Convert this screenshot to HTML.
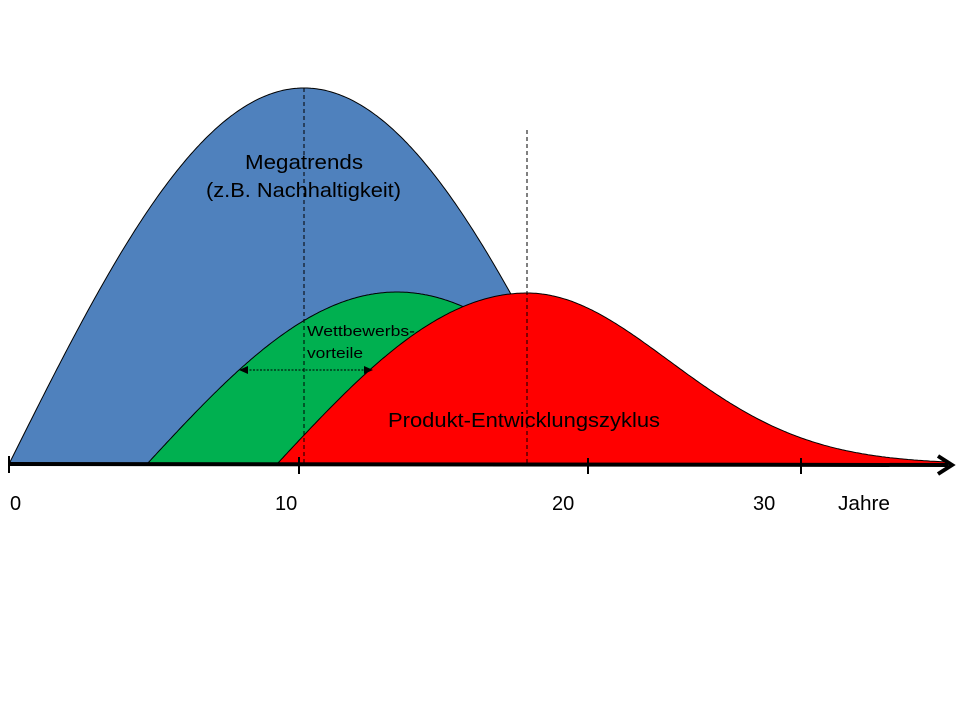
<!DOCTYPE html>
<html><head><meta charset="utf-8"><style>
html,body{margin:0;padding:0;background:#fff;}
svg{display:block;font-family:"Liberation Sans",sans-serif;}
</style></head><body>
<svg id="s" width="960" height="720" viewBox="0 0 960 720">
<path id="blue" fill="#4f81bd" stroke="#000" stroke-width="1"/>
<path id="green" fill="#00b050" stroke="#000" stroke-width="1"/>
<path id="red" fill="#ff0000" stroke="#000" stroke-width="1"/>
<line x1="304" y1="88" x2="304" y2="464" stroke="#000" stroke-width="1" stroke-dasharray="4,3"/>
<line x1="527" y1="130" x2="527" y2="464" stroke="#000" stroke-width="1" stroke-dasharray="4,3"/>
<line x1="246" y1="370" x2="366" y2="370" stroke="#000" stroke-width="1" stroke-dasharray="2,1.5"/>
<polygon points="239,370 248,366 248,374" fill="#000"/>
<polygon points="373,370 364,366 364,374" fill="#000"/>
<line x1="9" y1="464" x2="948" y2="465" stroke="#000" stroke-width="4"/>
<polyline points="938,456 952,465 938,474" fill="none" stroke="#000" stroke-width="4"/>
<g stroke="#000" stroke-width="2">
<line x1="9" y1="456" x2="9" y2="473"/><line x1="299" y1="457" x2="299" y2="474"/>
<line x1="588" y1="458" x2="588" y2="474"/><line x1="801" y1="458" x2="801" y2="474"/>
</g>
<g font-size="20" fill="#000">
<text x="245" y="169" textLength="118" lengthAdjust="spacingAndGlyphs">Megatrends</text>
<text x="206" y="197" textLength="195" lengthAdjust="spacingAndGlyphs">(z.B. Nachhaltigkeit)</text>
<text x="388" y="427" textLength="272" lengthAdjust="spacingAndGlyphs">Produkt-Entwicklungszyklus</text>
<text x="10" y="510">0</text><text x="275" y="510">10</text><text x="552" y="510">20</text>
<text x="753" y="510">30</text><text x="838" y="510" textLength="52" lengthAdjust="spacingAndGlyphs">Jahre</text>
</g>
<g font-size="15" fill="#000">
<text x="307" y="336" textLength="108" lengthAdjust="spacingAndGlyphs">Wettbewerbs-</text>
<text x="307" y="358" textLength="56" lengthAdjust="spacingAndGlyphs">vorteile</text>
</g>
</svg>
<script>
function P(pts){return "M"+pts.map(p=>p[0].toFixed(1)+","+p[1].toFixed(1)).join(" L")+" Z";}
var b=[];for(var x=9;x<=599;x+=2)b.push([x,464-376*Math.sin(Math.PI*(x-9)/590)]);
document.getElementById("blue").setAttribute("d",P(b));
var g=[];for(var x=147;x<=647;x+=2)g.push([x,464-172*Math.sin(Math.PI*(x-147)/500)]);
document.getElementById("green").setAttribute("d",P(g));
var r=[];for(var x=277;x<=527;x+=2)r.push([x,464-171*Math.sin(Math.PI/2*(x-277)/250)]);
for(var x=528;x<=950;x+=2){var d=(x-527)/200;r.push([x,464-171*Math.exp(-d*d)]);}
r.push([950,464]);
document.getElementById("red").setAttribute("d",P(r));
</script>
</body></html>
